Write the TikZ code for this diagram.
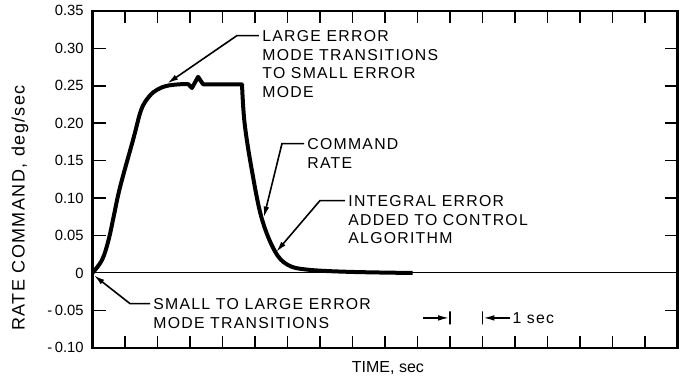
\documentclass[tikz,border=0pt]{standalone}
\usepackage{fontspec}
\setmainfont{Liberation Sans}
\newfontfamily\notefont[LetterSpace=8]{Liberation Sans}
\usepackage{tikz}
\usetikzlibrary{positioning}
\usetikzlibrary{arrows.meta,calc}

\tikzset{
  note/.style={align=left, anchor=north west, inner sep=0pt,
    font=\notefont\fontsize{7.9}{9.4}\selectfont},
  leader/.style={line width=0.8pt, shorten <=1.5pt,
    -{Latex[length=5.5pt,width=2.8pt]}},
  tickmark/.style={line width=0.8pt},
  ticklabel/.style={anchor=east, inner sep=0pt, font=\fontsize{7.4}{9}\selectfont},
  barmark/.style={draw, line width=0.8pt, inner sep=0pt, minimum width=0pt, minimum height=6.5pt},
  secarrow/.style={line width=0.8pt, -{Latex[length=5.5pt,width=2.8pt]}}
}

\begin{document}
\begin{tikzpicture}[x=16.25pt, y=374.45pt]
    \useasboundingbox (-2.846,-0.1442) rectangle (18.169,0.3645);
    % Frame and ticks
    \draw [line width=1.25pt] (0,-0.10) rectangle (18,0.35);
    \draw [line width=0.5pt] (0,0) -- (18,0);
    \foreach \t in {1,...,17} {
      \draw [tickmark] (\t,-0.10) -- ++(0,0.016);
      \draw [tickmark] (\t,0.35) -- ++(0,-0.016);
    }
    \foreach \v in {-0.05,0.05,0.10,0.15,0.20,0.25,0.30} {
      \draw [tickmark] (0,\v) -- ++(0.43,0);
      \draw [tickmark] (18,\v) -- ++(-0.4,0);
    }
    \foreach \v/\lab [count=\i] in {0.35/0.35, 0.30/0.30, 0.25/0.25, 0.20/0.20,
        0.15/0.15, 0.10/0.10, 0.05/0.05, 0/0, -0.05/-\,0.05, -0.10/-\,0.10}
      \node [ticklabel] (num\i) at (-0.26,\v) {\lab};

    % Axis titles
    \node [rotate=90, inner sep=0pt, font=\notefont\fontsize{9}{11}\selectfont] (ytitle)
      at (-2.23,0.0868) {RATE COMMAND, deg/sec};
    \node [inner sep=0pt, font=\fontsize{8}{10}\selectfont] (xtitle)
      at (9.09,-0.1268) {TIME, sec};

    % Rate curve
    \draw [line width=2pt, line join=round]
      plot [smooth, tension=0.6] coordinates {(0,0) (0.3,0.018) (0.5,0.045)
        (0.65,0.075) (0.85,0.115) (1.25,0.178) (1.5,0.218) (1.75,0.236)
        (2.0,0.245) (2.3,0.250) (2.7,0.252) (2.95,0.252)}
      -- (3.06,0.247) -- (3.25,0.262) -- (3.4,0.252) -- (4.6,0.252)
      -- plot [smooth, tension=0.6] coordinates {(4.6,0.252) (4.68,0.2)
        (4.9,0.138) (5.2,0.074) (5.6,0.03) (6.0,0.011) (6.6,0.0045)
        (7.9,0.0015) (9.85,0)};

    % Notes
    \node [note] (large) at (5.215,0.3245) {LARGE ERROR\\MODE TRANSITIONS\\TO SMALL ERROR\\MODE};
    \node [note] (cmd) at (6.6,0.1803) {COMMAND\\RATE};
    \node [note] (integ) at (7.862,0.1042) {INTEGRAL ERROR\\ADDED TO CONTROL\\ALGORITHM};
    \node [note] (small) at (1.862,-0.0334) {SMALL TO LARGE ERROR\\MODE TRANSITIONS};

    \coordinate (k1) at (4.446,0.317);
    \coordinate (k2) at (5.83,0.1728);
    \coordinate (k3) at (7.0,0.0967);
    \coordinate (k4) at (1.154,-0.0409);
    \coordinate (tip1) at (2.3,0.253);
    \coordinate (tip2) at (5.27,0.074);
    \coordinate (tip3) at (5.65,0.028);
    \coordinate (tip4) at (0.04,-0.003);

    % Arrows
    \draw [leader] (k1 -| large.west) -- (k1) -- (tip1);
    \draw [leader] (k2 -| cmd.west) -- (k2) -- (tip2);
    \draw [leader] (k3 -| integ.west) -- (k3) -- (tip3);
    \draw [leader] (k4 -| small.west) -- (k4) -- (tip4);

    % One second marker
    \coordinate (s1) at (10.17,-0.06);
    \node [barmark] (b1) at (11,-0.06) {};
    \node [barmark] (b2) at (12,-0.06) {};
    \coordinate (s2) at (12.85,-0.06);
    \node [inner sep=0pt, right=1pt of s2, font=\notefont\fontsize{7.9}{9.4}\selectfont] (onesec) {1 sec};
    \draw [secarrow] (s1) -- (b1);
    \draw [secarrow] (s2) -- (b2);
\end{tikzpicture}
\end{document}
